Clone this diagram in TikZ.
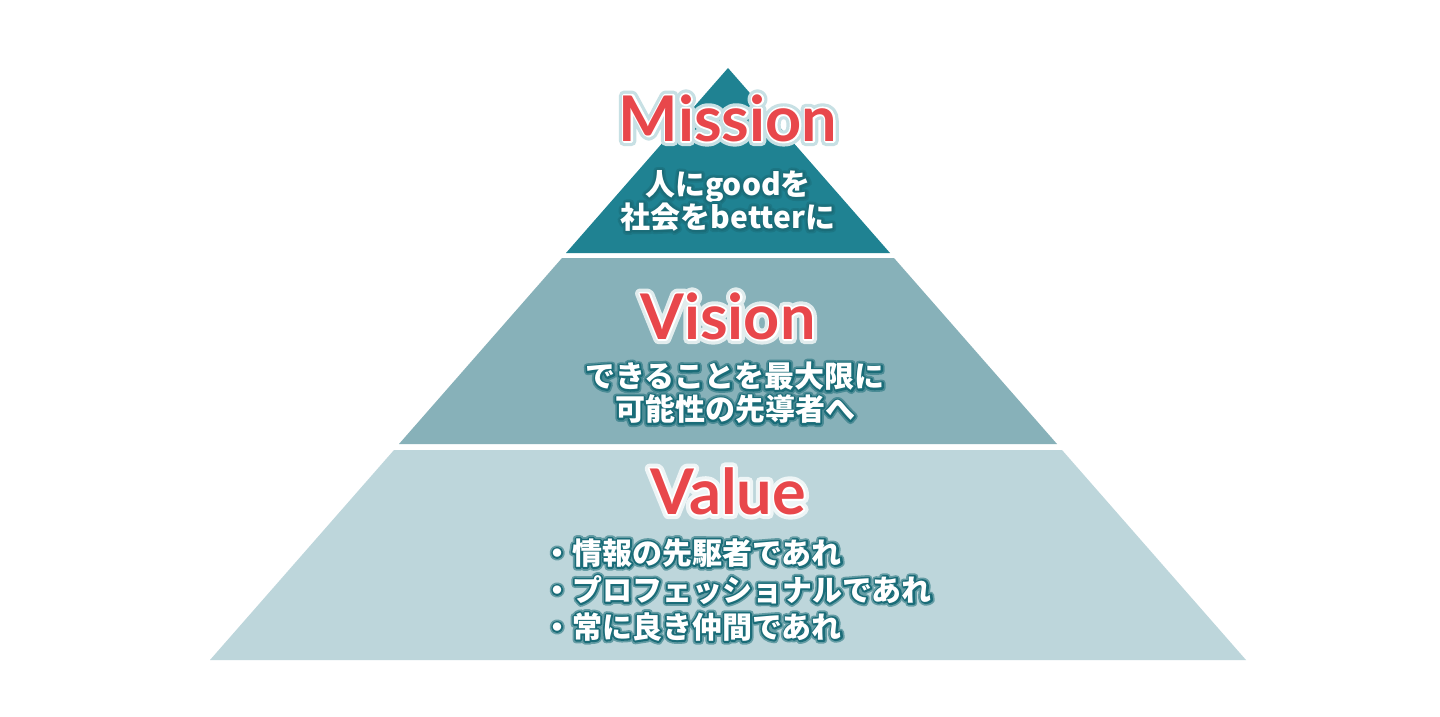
\documentclass[tikz,border=0pt]{standalone}
\usepackage{fontspec}
\newfontfamily\latofont{Lato}
\newfontfamily\jpfont{Noto Sans CJK JP}
\definecolor{missionteal}{HTML}{1F8292}
\definecolor{visionteal}{HTML}{87B1B9}
\definecolor{valueteal}{HTML}{BDD6DB}
\definecolor{titlered}{HTML}{E8474B}
\definecolor{glowteal}{HTML}{1A6C78}
\tikzset{
  title/.style={font=\latofont\bfseries\fontsize{63}{63}\selectfont, text=titlered, inner sep=0pt},
  motto/.style={font=\jpfont\bfseries\fontsize{30}{33}\selectfont, text=white, inner sep=0pt},
}
% stroked copies under the text give the halo
\newcommand{\halo}[4]{% outer colour, inner colour, width, text
  \rlap{\textcolor{#1}{\special{pdf:literal direct 2 Tr #3 w 1 j 1 J}#4\special{pdf:literal direct 0 Tr}}}%
  \rlap{\textcolor{#2}{\special{pdf:literal direct 2 Tr 3.6 w 1 j 1 J}#4\special{pdf:literal direct 0 Tr}}}%
  #4}
\newcommand{\redglow}[2]{\halo{white!75!#1}{white}{10}{#2}}
\newcommand{\tealglow}[2]{\halo{glowteal!55!#1}{glowteal}{7}{#2}}

\begin{document}
\begin{tikzpicture}[x=1pt,y=-1pt]
    \useasboundingbox[fill=white] (0,0) rectangle (1440,717);

    % --- 1. THE PYRAMID BANDS ---
    % apex at (728,68), sides drop 0.875 px per px
    \fill[missionteal] (728,68) -- (890,253) -- (566,253) -- cycle;
    \fill[visionteal] (562,258) -- (894,258) -- (1057,444) -- (399,444) -- cycle;
    \fill[valueteal] (394,450) -- (1062,450) -- (1246,660) -- (210,660) -- cycle;

    % --- 2. TITLES ---
    \node[title] (mission) at (728,118) {\redglow{missionteal}{Mission}};
    \node[title] (vision) at (728,316) {\redglow{visionteal}{Vision}};
    \node[title] (value) at (728,491) {\redglow{valueteal}{Value}};

    % --- 3. MOTTOS ---
    \node[motto, align=center] (missiontext) at (728,201)
        {\tealglow{missionteal}{人にgoodを}\\\tealglow{missionteal}{社会をbetterに}};
    \node[motto, align=center] (visiontext) at (735,393)
        {\tealglow{visionteal}{できることを最大限に}\\\tealglow{visionteal}{可能性の先導者へ}};
    \node[motto, align=left, anchor=west, font=\jpfont\bfseries\fontsize{30}{37}\selectfont] (valuetext) at (542,590)
        {\tealglow{valueteal}{・情報の先駆者であれ}\\\tealglow{valueteal}{・プロフェッショナルであれ}\\\tealglow{valueteal}{・常に良き仲間であれ}};

\end{tikzpicture}
\end{document}
